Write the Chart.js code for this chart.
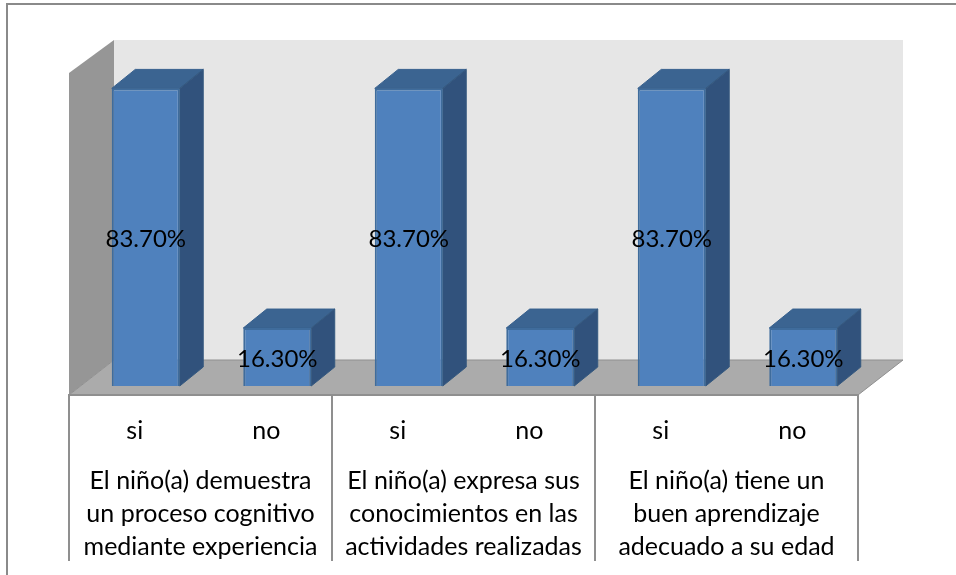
<!DOCTYPE html>
<html>
<head>
<meta charset="utf-8">
<script src="https://cdn.jsdelivr.net/npm/chart.js@4"></script>
<style>
html,body{margin:0;padding:0;background:#fff}
#box{position:relative;width:956px;height:575px}
</style>
</head>
<body>
<div id="box"><canvas id="c" width="956" height="575"></canvas></div>
<script>
const categories = ['si','no','si','no','si','no'];
const groupLabels = [
  ['El niño(a) demuestra','un proceso cognitivo','mediante experiencia'],
  ['El niño(a) expresa sus','conocimientos en las','actividades realizadas'],
  ['El niño(a) tiene un','buen aprendizaje','adecuado a su edad']
];
const seriesValues = [83.7,16.3,83.7,16.3,83.7,16.3];
const axisMax = 90;

const FONT = 'Lato, "Open Sans", sans-serif';
const DEPTH_X = 45, DEPTH_Y = 35;      // wall/floor depth
const BAR_DX = 23.5, BAR_DY = 19;      // bar depth
const SHIFT_X = 11, SHIFT_Y = -9;      // bars sit mid-depth on the floor

const scene = {
  id:'scene',
  beforeDraw(chart){
    const {ctx,chartArea:a} = chart;
    ctx.save();
    ctx.fillStyle='#fff';
    ctx.fillRect(0,0,chart.width,chart.height);
    ctx.strokeStyle='#8a8a8a';
    ctx.lineWidth=2;
    ctx.beginPath();ctx.moveTo(7,575);ctx.lineTo(7,4);ctx.lineTo(956,4);ctx.stroke();
    const poly=(pts,fill)=>{
      ctx.beginPath();
      pts.forEach((p,i)=>i?ctx.lineTo(p[0],p[1]):ctx.moveTo(p[0],p[1]));
      ctx.closePath();ctx.fillStyle=fill;ctx.fill();
    };
    const L=a.left,R=a.right,T=a.top-2,B=a.bottom;
    poly([[L+DEPTH_X,T-DEPTH_Y+2],[R+DEPTH_X,T-DEPTH_Y+2],[R+DEPTH_X,B-DEPTH_Y],[L+DEPTH_X,B-DEPTH_Y]],'#e6e6e6');
    poly([[L,T],[L+DEPTH_X,T-DEPTH_Y+2],[L+DEPTH_X,B-DEPTH_Y],[L,B]],'#969696');
    poly([[L,B],[L+DEPTH_X,B-DEPTH_Y],[R+DEPTH_X,B-DEPTH_Y],[R,B]],'#ababab');
    ctx.strokeStyle='#909090';
    ctx.lineWidth=1;
    ctx.beginPath();ctx.moveTo(L,B);ctx.lineTo(L+DEPTH_X,B-DEPTH_Y);ctx.lineTo(R+DEPTH_X,B-DEPTH_Y);ctx.lineTo(R,B);ctx.closePath();ctx.stroke();
    // axis line + group separators
    ctx.strokeStyle='#8f8f8f';
    ctx.lineWidth=2;
    ctx.beginPath();ctx.moveTo(L-1,B);ctx.lineTo(R+1,B);ctx.stroke();
    const x2=chart.scales.x2, step=(R-L)/groupLabels.length;
    ctx.beginPath();
    groupLabels.forEach((g,i)=>{
      const xx=x2.getPixelForValue(i)-step/2;
      ctx.moveTo(xx,B);ctx.lineTo(xx,561);
    });
    ctx.moveTo(R,B);ctx.lineTo(R,561);
    ctx.stroke();
    ctx.restore();
  },
  beforeDatasetsDraw(chart){
    const {ctx}=chart;
    ctx.save();
    ctx.translate(SHIFT_X,SHIFT_Y);
    chart.getDatasetMeta(0).data.forEach(el=>{
      const {x,y,base,width}=el.getProps(['x','y','base','width'],true);
      const l=x-width/2,r=x+width/2;
      ctx.lineWidth=1;
      ctx.strokeStyle='#37608d';
      ctx.fillStyle='#3b6491';
      ctx.beginPath();ctx.moveTo(l,y);ctx.lineTo(l+BAR_DX,y-BAR_DY);ctx.lineTo(r+BAR_DX,y-BAR_DY);ctx.lineTo(r,y);ctx.closePath();ctx.fill();ctx.stroke();
      ctx.fillStyle='#31527c';
      ctx.strokeStyle='#35597f';
      ctx.beginPath();ctx.moveTo(r,y);ctx.lineTo(r+BAR_DX,y-BAR_DY);ctx.lineTo(r+BAR_DX,base-BAR_DY);ctx.lineTo(r,base);ctx.closePath();ctx.fill();ctx.stroke();
    });
  },
  afterDatasetsDraw(chart){
    const {ctx}=chart;
    ctx.fillStyle='#000';
    ctx.font='24px '+FONT;
    ctx.textAlign='center';
    ctx.textBaseline='middle';
    chart.getDatasetMeta(0).data.forEach((el,i)=>{
      const {x,y,base}=el.getProps(['x','y','base'],true);
      ctx.fillText(seriesValues[i].toFixed(2)+'%',x,(y+base)/2+2);
    });
    ctx.restore();
  }
};

new Chart(document.getElementById('c'),{
  type:'bar',
  data:{
    labels:categories,
    datasets:[{
      data:seriesValues,
      backgroundColor:'#4f81bd',
      borderColor:'#3f6c9c',
      borderWidth:2,
      categoryPercentage:1,
      barPercentage:0.517
    }]
  },
  options:{
    responsive:false,
    animation:false,
    layout:{padding:{left:69,right:98,top:75,bottom:0}},
    plugins:{legend:{display:false},title:{display:false},tooltip:{enabled:false}},
    scales:{
      y:{display:false,min:0,max:axisMax},
      x:{
        position:'bottom',
        grid:{display:false},
        border:{display:false},
        ticks:{color:'#000',font:{family:FONT,size:25},padding:13,autoSkip:false,maxRotation:0},
        afterFit(s){s.height=55;}
      },
      x2:{
        type:'category',
        labels:groupLabels,
        position:'bottom',
        grid:{display:false},
        border:{display:false},
        ticks:{color:'#000',font:{family:FONT,size:25,lineHeight:1.32},padding:6,autoSkip:false,maxRotation:0},
        afterFit(s){s.height=125;}
      }
    }
  },
  plugins:[scene]
});
</script>
</body>
</html>
